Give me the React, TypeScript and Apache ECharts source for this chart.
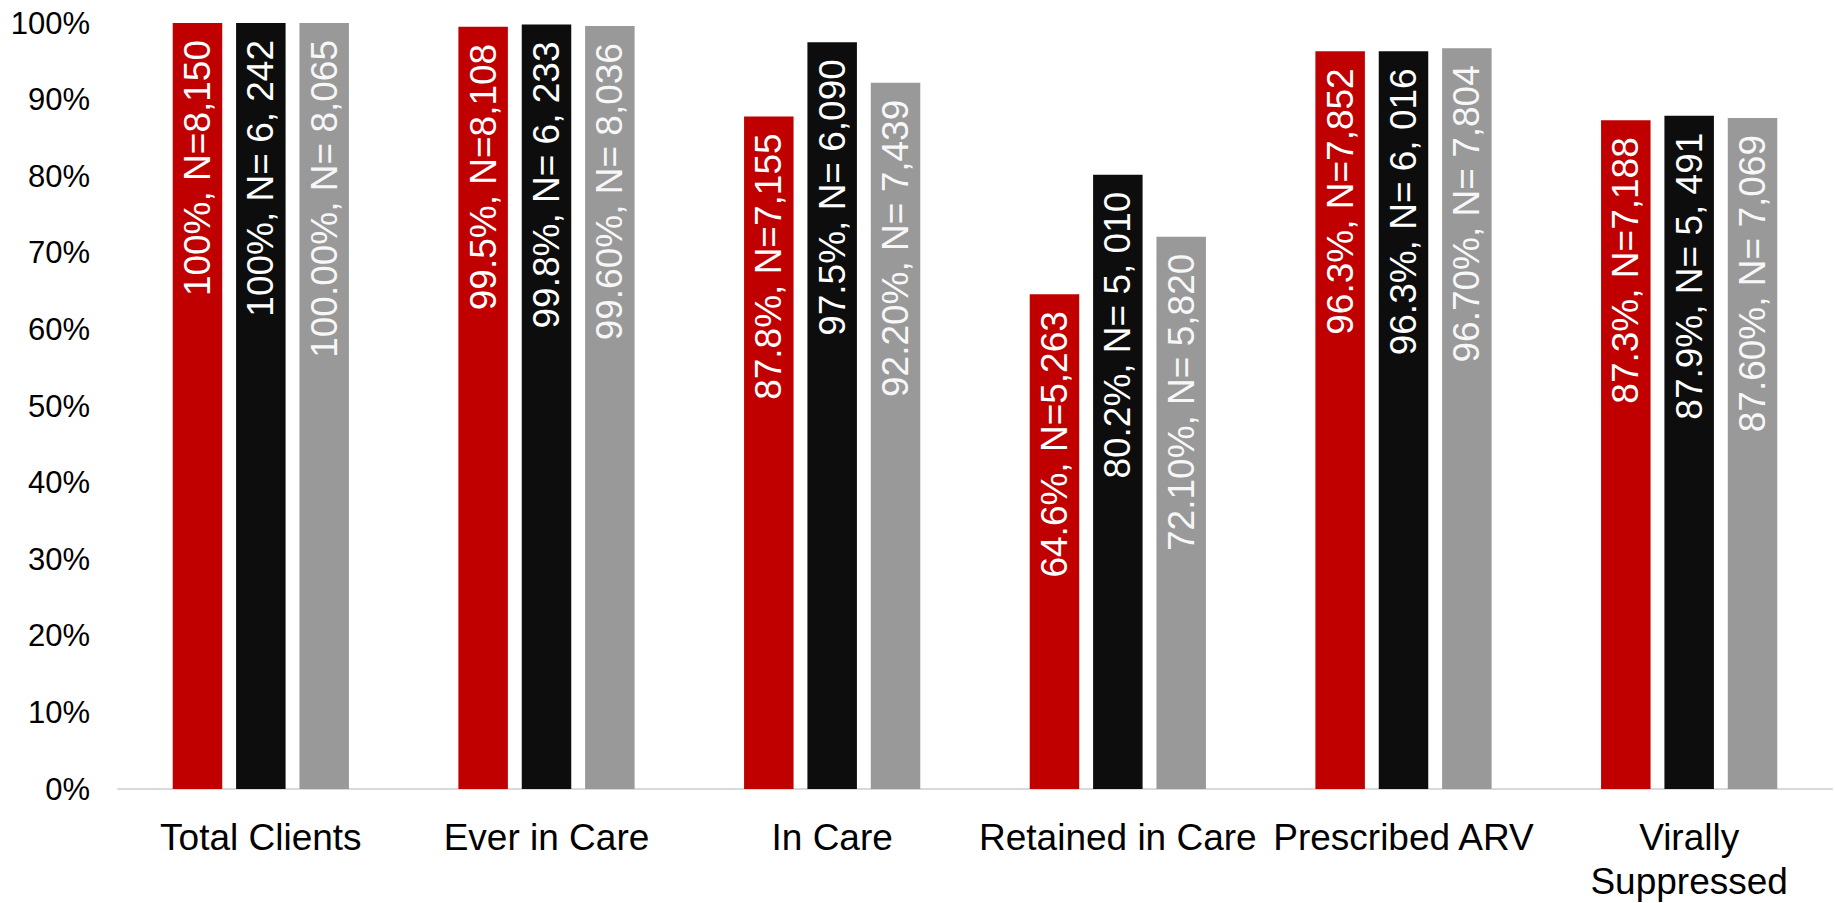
import React, { useEffect, useRef } from "react";
import * as echarts from "echarts";

const categories = [
  "Total Clients",
  "Ever in Care",
  "In Care",
  "Retained in Care",
  "Prescribed ARV",
  "Virally\nSuppressed",
];

const redValues = [100, 99.5, 87.8, 64.6, 96.3, 87.3];
const blackValues = [100, 99.8, 97.5, 80.2, 96.3, 87.9];
const grayValues = [100, 99.6, 92.2, 72.1, 96.7, 87.6];

const redLabels = [
  "100%, N=8,150",
  "99.5%, N=8,108",
  "87.8%, N=7,155",
  "64.6%, N=5,263",
  "96.3%, N=7,852",
  "87.3%, N=7,188",
];
const blackLabels = [
  "100%, N= 6, 242",
  "99.8%, N= 6, 233",
  "97.5%, N= 6,090",
  "80.2%, N= 5, 010",
  "96.3%, N= 6, 016",
  "87.9%, N= 5, 491",
];
const grayLabels = [
  "100.00%, N= 8,065",
  "99.60%, N= 8,036",
  "92.20%, N= 7,439",
  "72.10%, N= 5,820",
  "96.70%, N= 7,804",
  "87.60%, N= 7,069",
];

const yTicks = { min: 0, max: 100, interval: 10 };

const FONT = "'Liberation Sans', Arial, Helvetica, sans-serif";

function makeSeries(name: string, values: number[], labels: string[], color: string, textColor: string) {
  return {
    name,
    type: "bar",
    data: values,
    barWidth: 49.5,
    barGap: "28%",
    itemStyle: { color },
    label: {
      show: true,
      position: "insideTop",
      rotate: 90,
      align: "right",
      verticalAlign: "middle",
      distance: 17,
      color: textColor,
      fontSize: 37,
      fontFamily: FONT,
      formatter: (p: any) => labels[p.dataIndex],
    },
  };
}

export default function App() {
  const ref = useRef<HTMLDivElement>(null);
  useEffect(() => {
    if (!ref.current) return;
    const chart = echarts.init(ref.current, null, { renderer: "svg" });
    chart.setOption({
      animation: false,
      backgroundColor: "#ffffff",
      grid: { left: 118, right: 3, top: 23, bottom: 108, containLabel: false },
      xAxis: {
        type: "category",
        data: categories,
        axisLine: { show: true, lineStyle: { color: "#d9d9d9", width: 2 } },
        axisTick: { show: false },
        axisLabel: {
          interval: 0,
          margin: 26,
          color: "#000000",
          fontSize: 37,
          lineHeight: 44,
          fontFamily: FONT,
        },
      },
      yAxis: {
        type: "value",
        min: yTicks.min,
        max: yTicks.max,
        interval: yTicks.interval,
        axisLine: { show: false },
        axisTick: { show: false },
        splitLine: { show: false },
        axisLabel: {
          formatter: "{value}%",
          margin: 28,
          color: "#000000",
          fontSize: 31,
          fontFamily: FONT,
        },
      },
      series: [
        makeSeries("A", redValues, redLabels, "#C00000", "#ffffff"),
        makeSeries("B", blackValues, blackLabels, "#0D0D0D", "#ffffff"),
        makeSeries("C", grayValues, grayLabels, "#999999", "#f7f7f7"),
      ],
    });
    return () => chart.dispose();
  }, []);
  return (
    <div
      ref={ref}
      style={{ position: "fixed", left: 0, top: 0, width: 1835, height: 903, background: "#fff" }}
    />
  );
}
